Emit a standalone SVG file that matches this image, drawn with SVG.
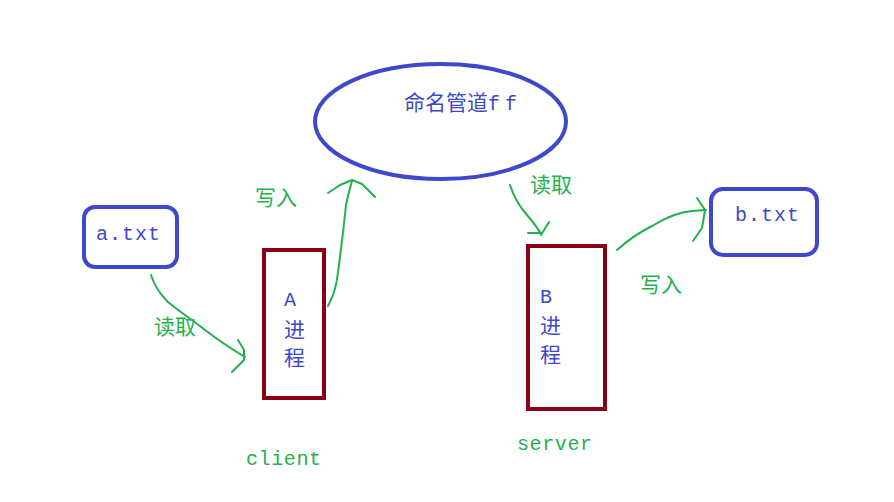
<svg xmlns="http://www.w3.org/2000/svg" width="894" height="502" viewBox="0 0 894 502">
<style>
.file{fill:none;stroke:#3f48cc;stroke-width:4}
.proc{fill:none;stroke:#880015;stroke-width:4}
.blue{fill:#3f48cc;font-family:"Liberation Mono","Noto Sans CJK SC",monospace;font-size:20px}
.cjk{font-family:"Noto Sans CJK SC",sans-serif;font-size:21px}
.green{fill:#22b14c;font-family:"Noto Sans CJK SC",sans-serif;font-size:21px}
.mono{fill:#22b14c;font-family:"Liberation Mono",monospace;font-size:20px;letter-spacing:0.6px}
.edge{fill:none;stroke:#22b14c;stroke-width:2;stroke-linecap:round;stroke-linejoin:round}
</style>
<rect width="894" height="502" fill="#ffffff"/>
<g id="pipe">
<ellipse class="file" cx="440.5" cy="121.5" rx="125.5" ry="57.5"/>
<text class="blue" x="404" y="110"><tspan class="cjk">命名管道</tspan><tspan letter-spacing="5">ff</tspan></text>
</g>
<g id="a-txt">
<rect class="file" x="84" y="207" width="93" height="60" rx="11"/>
<text class="blue" x="96" y="240" letter-spacing="1">a.txt</text>
</g>
<g id="proc-a">
<rect class="proc" x="264" y="250" width="60" height="148"/>
<text class="blue" x="284" y="306">A</text>
<text class="blue cjk" x="284" y="337">进</text>
<text class="blue cjk" x="284" y="365">程</text>
</g>
<g id="proc-b">
<rect class="proc" x="528" y="246" width="77" height="163"/>
<text class="blue" x="540" y="303">B</text>
<text class="blue cjk" x="540" y="333">进</text>
<text class="blue cjk" x="540" y="362">程</text>
</g>
<g id="b-txt">
<rect class="file" x="711" y="189" width="106" height="66" rx="12"/>
<text class="blue" x="735" y="221" letter-spacing="1">b.txt</text>
</g>
<g id="connectors">
<path class="edge" d="M151,275 C155,288 162,296 168,302 C180,312 195,322 205,330 C218,340 230,348 245,357"/>
<path class="edge" d="M238,340 L244,350 L244,360 L232,372"/>
<path class="edge" d="M328,306 C332,298 336,290 338,272 C341,250 344,225 346,205 C348,195 350,188 352,181"/>
<path class="edge" d="M328,193 L340,185 L352,180 L362,184 L375,197"/>
<path class="edge" d="M510,185 C514,198 520,207 527,215 C533,222 538,228 541,234"/>
<path class="edge" d="M528,233 L542,233 M549,222 L541,235"/>
<path class="edge" d="M617,250 C628,240 640,232 652,226 C665,218 680,212 692,211 L706,210"/>
<path class="edge" d="M697,198 L705,210 L702,228 L693,241"/>
</g>
<g id="labels">
<text class="green" x="154" y="334">读取</text>
<text class="green" x="255" y="205">写入</text>
<text class="green" x="530" y="192">读取</text>
<text class="green" x="640" y="292">写入</text>
<text class="mono" x="246" y="465">client</text>
<text class="mono" x="517" y="450">server</text>
</g>
</svg>
